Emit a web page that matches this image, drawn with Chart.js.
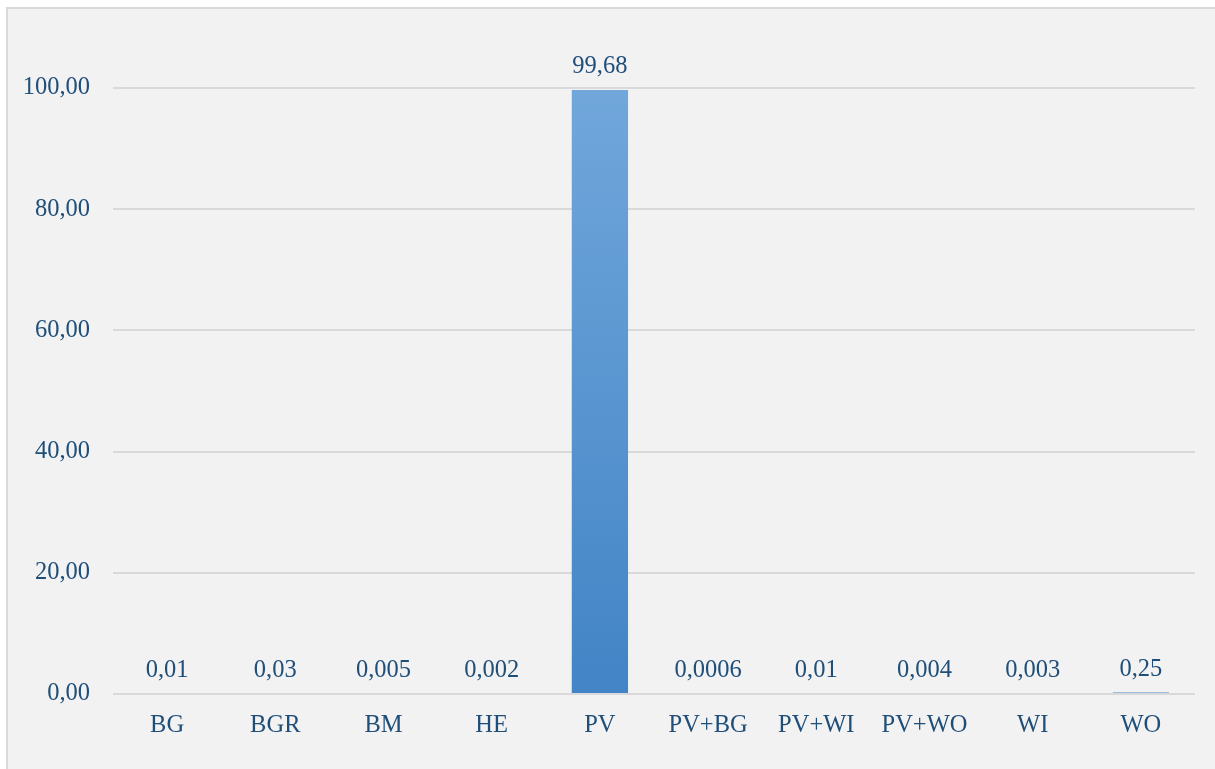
<!DOCTYPE html>
<html>
<head>
<meta charset="utf-8">
<script src="https://cdn.jsdelivr.net/npm/chart.js@4"></script>
<style>
    body { margin: 0; background: #ffffff; }
    #frame {
        position: absolute; left: 6px; top: 7px;
        width: 1215px; height: 770px;
        background: #f2f2f2; border: 2px solid #d9d9d9;
    }
    #chartArea { position: absolute; left: 0; top: 0; width: 1215px; height: 769px; }
</style>
</head>
<body>
<div id="frame"></div>
<div id="chartArea"><canvas id="myChart"></canvas></div>
<script>
// データ
const categories = ['BG', 'BGR', 'BM', 'HE', 'PV', 'PV+BG', 'PV+WI', 'PV+WO', 'WI', 'WO'];
const shares = [0.01, 0.03, 0.005, 0.002, 99.68, 0.0006, 0.01, 0.004, 0.003, 0.25];
const yTicks = [0, 20, 40, 60, 80, 100];

const textColor = '#1f4e79';
const fontFamily = '"Liberation Serif", serif';
const fontSize = 24.5;

// ゼロ線を棒の上に引き直し、値ラベルを描く
const valueLabels = {
    id: 'valueLabels',
    afterDatasetsDraw(chart) {
        const ctx = chart.ctx;
        const y0 = chart.scales.y.getPixelForValue(0);
        ctx.save();
        ctx.strokeStyle = '#d9d9d9';
        ctx.lineWidth = 2;
        ctx.beginPath();
        ctx.moveTo(chart.chartArea.left, y0);
        ctx.lineTo(chart.chartArea.right, y0);
        ctx.stroke();
        ctx.restore();
    },
    afterDraw(chart) {
        const ctx = chart.ctx;
        const meta = chart.getDatasetMeta(0);
        ctx.save();
        ctx.fillStyle = textColor;
        ctx.font = fontSize + 'px ' + fontFamily;
        ctx.textAlign = 'center';
        ctx.textBaseline = 'bottom';
        meta.data.forEach((bar, i) => {
            const txt = String(shares[i]).replace('.', ',');
            ctx.fillText(txt, bar.x, bar.y - 11);
        });
        ctx.restore();
    }
};

// 棒のグラデーション(上が明るい)
function barGradient(context) {
    const chart = context.chart;
    const area = chart.chartArea;
    if (!area) return '#5b9bd5';
    const g = chart.ctx.createLinearGradient(0, area.top, 0, area.bottom);
    g.addColorStop(0, '#71a7db');
    g.addColorStop(1, '#4284c6');
    return g;
}

new Chart(document.getElementById('myChart'), {
    type: 'bar',
    data: {
        labels: categories,
        datasets: [{
            data: shares,
            backgroundColor: barGradient,
            borderWidth: 0,
            inflateAmount: 0,
            categoryPercentage: 1,
            barPercentage: 0.52
        }]
    },
    options: {
        responsive: true,
        maintainAspectRatio: false,
        animation: false,
        layout: { padding: { top: 88, right: 20, left: 0, bottom: 0 } },
        plugins: { legend: { display: false }, tooltip: { enabled: false } },
        scales: {
            x: {
                grid: { display: false, drawTicks: false },
                border: { display: false },
                ticks: { color: textColor, font: { family: fontFamily, size: fontSize }, padding: 17 },
                afterFit(scale) { scale.height = 75; }
            },
            y: {
                min: 0,
                max: 100,
                afterBuildTicks(scale) { scale.ticks = yTicks.map(v => ({ value: v })); },
                grid: { color: '#d9d9d9', lineWidth: 2, drawTicks: false },
                border: { display: false },
                ticks: {
                    color: textColor,
                    font: { family: fontFamily, size: fontSize },
                    padding: 23,
                    callback: v => v.toFixed(2).replace('.', ',')
                },
                afterFit(scale) { scale.width = 113; }
            }
        }
    },
    plugins: [valueLabels]
});
</script>
</body>
</html>
